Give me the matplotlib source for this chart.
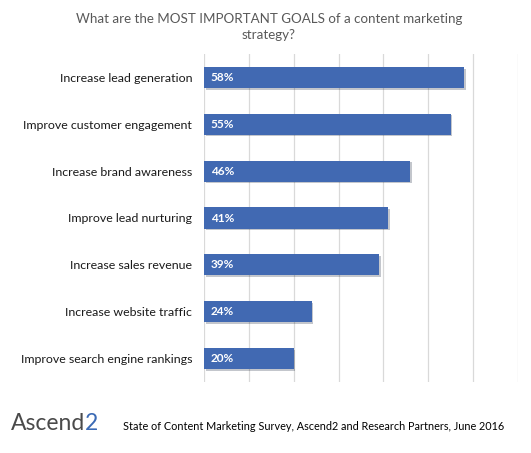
import matplotlib.pyplot as plt
import matplotlib.patheffects as pe

categories = ['Increase lead generation', 'Improve customer engagement',
              'Increase brand awareness', 'Improve lead nurturing',
              'Increase sales revenue', 'Increase website traffic',
              'Improve search engine rankings']
values = [58, 55, 46, 41, 39, 24, 20]

title = 'What are the MOST IMPORTANT GOALS of a content marketing\nstrategy?'
source = 'State of Content Marketing Survey, Ascend2 and Research Partners, June 2016'

plt.rcParams['font.family'] = ['Lato', 'DejaVu Sans']

fig = plt.figure(figsize=(5.31, 4.53), dpi=100)
ax = fig.add_axes([204 / 531, 1 - 382 / 453, 314 / 531, 328 / 453])

ypos = list(range(len(categories)))
bars = ax.barh(ypos, values, height=0.45, color='#4169B2', zorder=3)
for b in bars:
    b.set_path_effects([pe.SimplePatchShadow(offset=(1.2, -1.2), alpha=0.25), pe.Normal()])

for y, v in zip(ypos, values):
    ax.text(1.5, y, f'{v}%', color='white', fontsize=8.5, fontweight='bold',
            va='center', ha='left', zorder=4)

ax.set_xlim(0, 70)
ax.set_ylim(len(categories) - 0.5, -0.5)
ax.set_xticks(range(0, 71, 10))
ax.set_xticklabels([])
ax.set_yticks(ypos)
ax.set_yticklabels(categories, fontsize=8.9, color='#1a1a1a')
ax.tick_params(axis='both', length=0)
ax.tick_params(axis='y', pad=8.5)
ax.grid(axis='x', color='#d9d9d9', linewidth=0.9, zorder=0)
for s in ax.spines.values():
    s.set_visible(False)

fig.text(269 / 531, 1 - 27 / 453, title, ha='center', va='center',
         fontsize=9.6, color='#595959', linespacing=1.45)

# footer: logo and source line
logo = fig.text(11 / 531, 1 - 424 / 453, 'Ascend', fontsize=16.5, color='#4a4a4a',
                ha='left', va='center')
ax.annotate('2', xy=(1, 0.5), xycoords=logo, xytext=(-0.5, 0), textcoords='offset points',
            fontsize=16.5, color='#3b6ab5', ha='left', va='center', annotation_clip=False)
fig.text(123 / 531, 1 - 426 / 453, source, fontsize=7.85, color='#000000',
         ha='left', va='center')

fig.savefig('out.png', dpi=100)
